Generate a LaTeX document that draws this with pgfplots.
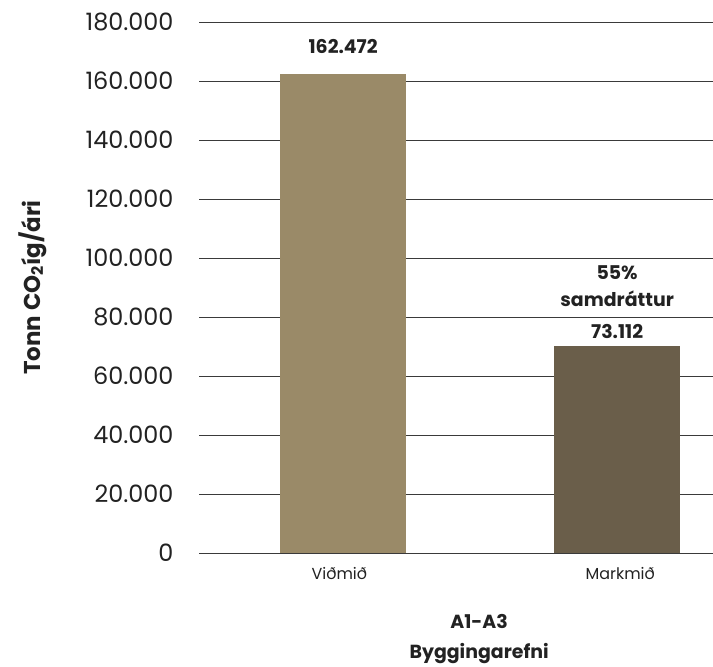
\documentclass[border=0pt]{standalone}
\usepackage{fontspec}
\setmainfont{Poppins}
\usepackage{pgfplots}
\pgfplotsset{compat=1.18}
\definecolor{barA}{HTML}{9A8A68}
\definecolor{barB}{HTML}{6A5E4A}
\definecolor{gridc}{HTML}{3A3A3A}
\definecolor{txt}{HTML}{222222}

\begin{document}
\begin{tikzpicture}[x=1bp,y=1bp]
\path[use as bounding box] (0,0) rectangle (713,667);
\begin{axis}[
    at={(199bp,114bp)}, anchor=south west,
    scale only axis, width=514bp, height=531bp,
    xmin=-0.526, xmax=1.35,
    ymin=0, ymax=180000,
    scaled y ticks=false,
    ytick={0,20000,40000,60000,80000,100000,120000,140000,160000,180000},
    yticklabels={0,20.000,40.000,60.000,80.000,100.000,120.000,140.000,160.000,180.000},
    xtick={0,1}, xticklabels={Viðmið,Markmið},
    ymajorgrids, grid style={gridc, line width=0.9pt},
    axis line style={draw=none},
    major tick style={draw=none},
    yticklabel style={font=\fontsize{24}{28}\selectfont, text=txt, xshift=-22bp},
    xticklabel style={font=\fontsize{16}{19}\selectfont, text=txt, anchor=base west, yshift=-27bp, xshift=-35bp},
    clip=false,
]
\addplot[ybar, bar shift=0pt, bar width=126bp, fill=barA, draw=none] coordinates {(0,162472)};
\addplot[ybar, bar shift=0pt, bar width=126bp, fill=barB, draw=none] coordinates {(1,70000)};
\node[font=\bfseries\fontsize{19}{22}\selectfont, text=txt, anchor=base] at (axis cs:0,169300) {162.472};
\node[font=\bfseries\fontsize{19}{22}\selectfont, text=txt, anchor=base] at (axis cs:1,92550) {55\%};
\node[font=\bfseries\fontsize{19}{22}\selectfont, text=txt, anchor=base] at (axis cs:1,83390) {samdráttur};
\node[font=\bfseries\fontsize{19}{22}\selectfont, text=txt, anchor=base] at (axis cs:1,72550) {73.112};
% axis titles
\node[font=\bfseries\fontsize{23}{26}\selectfont, text=txt, rotate=90, anchor=base] at (axis description cs:-0.309,0.5) {Tonn CO\textsubscript{2}íg/ári};
\node[font=\bfseries\fontsize{19}{22}\selectfont, text=txt, anchor=base] at (axis description cs:0.545,-0.1413) {A1-A3};
\node[font=\bfseries\fontsize{19}{22}\selectfont, text=txt, anchor=base] at (axis description cs:0.545,-0.1996) {Byggingarefni};
\end{axis}
\end{tikzpicture}
\end{document}
